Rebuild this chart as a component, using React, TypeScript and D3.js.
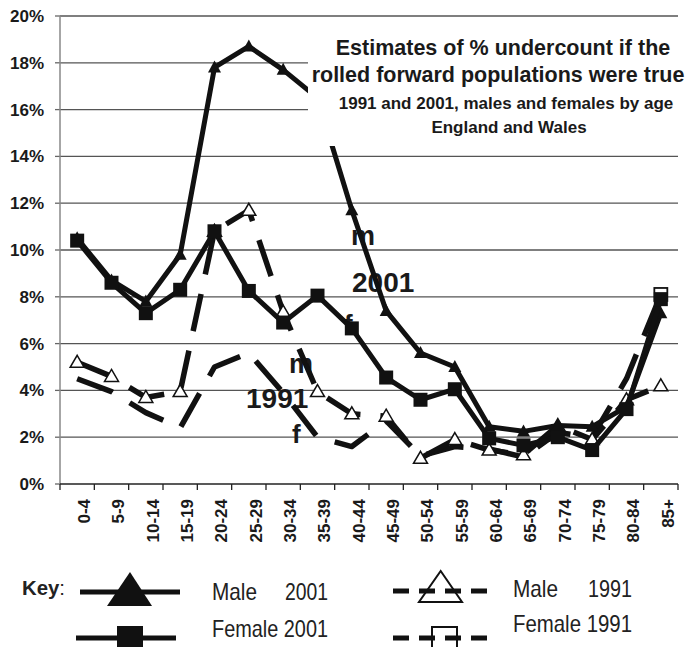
import React from 'react';
import * as d3 from 'd3';

const categories = ["0-4","5-9","10-14","15-19","20-24","25-29","30-34","35-39","40-44","45-49","50-54","55-59","60-64","65-69","70-74","75-79","80-84","85+"];
const male2001 = [10.5, 8.7, 7.8, 9.8, 17.8, 18.7, 17.7, 16.5, 11.7, 7.4, 5.6, 5.0, 2.45, 2.25, 2.5, 2.45, 3.3, 7.3];
const female2001 = [10.4, 8.6, 7.3, 8.3, 10.8, 8.25, 6.9, 8.05, 6.65, 4.55, 3.6, 4.05, 1.95, 1.65, 2.0, 1.45, 3.2, 7.9];
const male1991 = [5.2, 4.6, 3.7, 3.95, 10.8, 11.7, 7.35, 3.95, 3.0, 2.9, 1.1, 1.9, 1.45, 1.25, 2.5, 1.9, 3.6, 4.2];
const female1991 = [4.5, 3.95, 3.05, 2.4, 5.0, 5.6, 3.9, 2.0, 1.6, 2.7, 1.2, 1.6, 1.5, 1.15, 2.2, 2.0, 4.5, 8.1];
const yTicks = [0, 2, 4, 6, 8, 10, 12, 14, 16, 18, 20];
const titleLines = ["Estimates of % undercount if the", "rolled forward populations were true", "1991 and 2001, males and females by age", "England and Wales"];

const ARIAL = '"Liberation Sans", Arial, Helvetica, sans-serif';

export default function App() {
  const x = d3.scaleBand<string>().domain(categories).range([60, 678]).padding(0);
  const y = d3.scaleLinear().domain([0, 20]).range([484, 16]);
  const bw = x.bandwidth();
  const cx = (i: number) => (x(categories[i]) as number) + bw / 2;
  const line = d3.line<number>().x((_, i) => cx(i)).y(d => y(d));

  const tri = (px: number, py: number, w: number, h: number) =>
    `M${px},${py - h * 0.58}L${px + w / 2},${py + h * 0.42}L${px - w / 2},${py + h * 0.42}Z`;

  return (
    <svg width={698} height={647} style={{ position: 'absolute', left: 0, top: 0, background: '#fff' }}>
      <rect x={0} y={0} width={698} height={647} fill="#fff" />
      {/* grid */}
      {yTicks.map(t => (
        <g key={t}>
          {t > 0 && <line x1={60} x2={678} y1={y(t)} y2={y(t)} stroke="#555" strokeWidth={1.3} />}
          <line x1={55} x2={60} y1={y(t)} y2={y(t)} stroke="#666" strokeWidth={1.3} />
          <text x={44} y={y(t) + 6} textAnchor="end" fontFamily={ARIAL} fontWeight="bold" fontSize={17} fill="#1a1a1a">{t}%</text>
        </g>
      ))}
      <line x1={60} x2={60} y1={16} y2={484} stroke="#888" strokeWidth={1.5} />
      <line x1={60} x2={678} y1={484} y2={484} stroke="#222" strokeWidth={1.5} />
      {categories.map((c) => (
        <line key={'t' + c} x1={(x(c) as number)} x2={(x(c) as number)} y1={484} y2={490} stroke="#222" strokeWidth={1.3} />
      ))}
      <line x1={678} x2={678} y1={484} y2={490} stroke="#222" strokeWidth={1.3} />
      {categories.map((c, i) => (
        <text key={'l' + c} transform={`translate(${cx(i) + 12.8},${499}) rotate(-90)`} textAnchor="end"
          fontFamily={ARIAL} fontWeight="bold" fontSize={17} fill="#1a1a1a">{c}</text>
      ))}

      {/* in-chart labels */}
      <g fontFamily={ARIAL} fontWeight="bold" fill="#1a1a1a">
        <text x={351} y={245} fontSize={27}>m</text>
        <text x={352} y={292} fontSize={28}>2001</text>
        <text x={344} y={333} fontSize={26}>f</text>
        <text x={289} y={373} fontSize={27}>m</text>
        <text x={246} y={408} fontSize={28}>1991</text>
        <text x={292} y={443} fontSize={26}>f</text>
      </g>

      {/* series */}
      <path d={line(female1991) as string} fill="none" stroke="#111" strokeWidth={5.5} strokeDasharray="38 20" strokeLinejoin="round" />
      {female1991.map((v, i) => i === female1991.length - 1 ? (
        <rect key={'f91' + i} x={cx(i) - 6.5} y={y(v) - 6.5} width={13} height={13} fill="#fff" stroke="#111" strokeWidth={1.8} />
      ) : null)}
      <path d={line(male1991) as string} fill="none" stroke="#111" strokeWidth={5.5} strokeDasharray="38 20" strokeLinejoin="round" />
      {male1991.map((v, i) => (
        <path key={'m91' + i} d={tri(cx(i), y(v), 14, 12)} fill="#fff" stroke="#111" strokeWidth={1.5} />
      ))}
      <path d={line(male2001) as string} fill="none" stroke="#111" strokeWidth={5} strokeLinejoin="round" />
      {male2001.map((v, i) => (
        <path key={'m01' + i} d={tri(cx(i), y(v), 13, 12)} fill="#111" />
      ))}
      <path d={line(female2001) as string} fill="none" stroke="#111" strokeWidth={5} strokeLinejoin="round" />
      {female2001.map((v, i) => (
        <rect key={'f01' + i} x={cx(i) - 7} y={y(v) - 7} width={14} height={14} fill="#111" />
      ))}

      {/* title box */}
      <rect x={308} y={28} width={372} height={118} fill="#fff" />
      <g fontFamily={ARIAL} fontWeight="bold" fill="#1a1a1a" textAnchor="middle">
        <text x={503} y={55} fontSize={21.5}>{titleLines[0]}</text>
        <text x={498} y={82} fontSize={21.5}>{titleLines[1]}</text>
        <text x={506} y={109} fontSize={17}>{titleLines[2]}</text>
        <text x={509} y={133} fontSize={17}>{titleLines[3]}</text>
      </g>

      {/* legend */}
      <text x={22} y={595} fontFamily={ARIAL} fontWeight="bold" fontSize={21} fill="#222" textLength={43} lengthAdjust="spacingAndGlyphs">Key<tspan fontWeight="normal">:</tspan></text>
      <line x1={80} x2={180} y1={592} y2={592} stroke="#111" strokeWidth={5} />
      <path d="M130,572L152,606L107,606Z" fill="#111" />
      <line x1={76} x2={176} y1={638} y2={638} stroke="#111" strokeWidth={5} />
      <rect x={117} y={626} width={26} height={26} fill="#111" />
      <path d="M440.7,571L462,602L419,602Z" fill="#fff" stroke="#111" strokeWidth={2} />
      <line x1={393} x2={488} y1={591} y2={591} stroke="#111" strokeWidth={5} strokeDasharray="16 10" />
      <rect x={432} y={627} width={25} height={26} fill="#fff" stroke="#111" strokeWidth={2} />
      <line x1={393} x2={488} y1={638} y2={638} stroke="#111" strokeWidth={5} strokeDasharray="16 10" />
      <g fontFamily={ARIAL} fontSize={24} fill="#222">
        <text x={212} y={600} textLength={45} lengthAdjust="spacingAndGlyphs">Male</text>
        <text x={285} y={600} textLength={43} lengthAdjust="spacingAndGlyphs">2001</text>
        <text x={212} y={637} textLength={116} lengthAdjust="spacingAndGlyphs">Female 2001</text>
        <text x={513} y={597} textLength={45} lengthAdjust="spacingAndGlyphs">Male</text>
        <text x={588} y={597} textLength={44} lengthAdjust="spacingAndGlyphs">1991</text>
        <text x={513} y={632} textLength={119} lengthAdjust="spacingAndGlyphs">Female 1991</text>
      </g>
    </svg>
  );
}
